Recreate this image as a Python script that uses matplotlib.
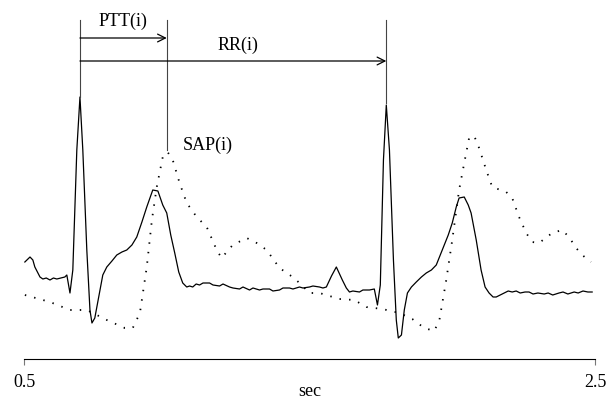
import matplotlib
matplotlib.use("Agg")
import matplotlib.pyplot as plt

plt.rcParams['font.family'] = ['Liberation Serif', 'DejaVu Serif']

# ECG trace (solid), time in sec, amplitude arbitrary units
ecg_t = [0.503, 0.521, 0.531, 0.538, 0.556, 0.566, 0.578, 0.591, 0.603, 0.615, 0.629,
         0.643, 0.650, 0.661, 0.671, 0.685, 0.696, 0.706, 0.720, 0.731, 0.738, 0.748,
         0.766, 0.776, 0.790, 0.808, 0.825, 0.843, 0.860, 0.878, 0.895, 0.913, 0.930,
         0.951, 0.969, 0.986, 1.000, 1.014, 1.028, 1.042, 1.056, 1.070, 1.080, 1.091,
         1.103, 1.115, 1.127, 1.150, 1.162, 1.185, 1.197, 1.220, 1.232, 1.255, 1.267,
         1.290, 1.302, 1.325, 1.337, 1.360, 1.372, 1.395, 1.407, 1.430, 1.442, 1.465,
         1.477, 1.500, 1.512, 1.535, 1.547, 1.559, 1.577, 1.594, 1.615, 1.629, 1.640,
         1.652, 1.675, 1.687, 1.710, 1.727, 1.738, 1.748, 1.759, 1.769, 1.780, 1.794,
         1.804, 1.811, 1.822, 1.832, 1.843, 1.857, 1.874, 1.892, 1.909, 1.927, 1.944,
         1.958, 1.972, 1.986, 2.000, 2.014, 2.024, 2.042, 2.056, 2.066, 2.084, 2.101,
         2.115, 2.129, 2.143, 2.154, 2.168, 2.182, 2.196, 2.210, 2.224, 2.238, 2.255,
         2.269, 2.283, 2.300, 2.322, 2.336, 2.352, 2.374, 2.388, 2.405, 2.427, 2.441,
         2.458, 2.475, 2.490]
ecg_v = [0.96, 1.01, 0.98, 0.91, 0.81, 0.79, 0.80, 0.78, 0.80, 0.79, 0.80,
         0.81, 0.83, 0.65, 0.88, 2.08, 2.61, 2.08, 1.08, 0.48, 0.35, 0.40,
         0.68, 0.83, 0.91, 0.97, 1.03, 1.06, 1.08, 1.13, 1.21, 1.36, 1.51,
         1.68, 1.67, 1.53, 1.45, 1.23, 1.05, 0.86, 0.75, 0.71, 0.72, 0.71,
         0.74, 0.73, 0.75, 0.75, 0.73, 0.72, 0.74, 0.71, 0.70, 0.69, 0.71,
         0.68, 0.70, 0.68, 0.69, 0.69, 0.67, 0.68, 0.70, 0.70, 0.69, 0.71,
         0.70, 0.71, 0.72, 0.71, 0.70, 0.71, 0.82, 0.91, 0.78, 0.70, 0.66,
         0.67, 0.66, 0.68, 0.68, 0.69, 0.53, 0.73, 1.98, 2.53, 2.08, 0.98,
         0.38, 0.20, 0.23, 0.48, 0.65, 0.71, 0.76, 0.81, 0.85, 0.88, 0.93,
         1.03, 1.13, 1.23, 1.35, 1.51, 1.60, 1.61, 1.53, 1.45, 1.18, 0.88,
         0.71, 0.65, 0.61, 0.61, 0.63, 0.65, 0.67, 0.66, 0.67, 0.65, 0.66,
         0.66, 0.64, 0.65, 0.64, 0.65, 0.63, 0.65, 0.66, 0.64, 0.66, 0.65,
         0.67, 0.66, 0.66]

# blood pressure trace (dotted)
bp_t = [0.503, 0.591, 0.661, 0.720, 0.790, 0.853, 0.881, 0.906, 0.930, 0.948,
        0.965, 0.986, 1.003, 1.021, 1.045, 1.070, 1.105, 1.140, 1.175, 1.192,
        1.231, 1.280, 1.315, 1.350, 1.395, 1.441, 1.465, 1.500, 1.535, 1.605,
        1.657, 1.699, 1.755, 1.815, 1.860, 1.902, 1.937, 1.955, 1.979, 2.000,
        2.024, 2.042, 2.059, 2.077, 2.094, 2.119, 2.140, 2.189, 2.210, 2.234,
        2.259, 2.280, 2.304, 2.350, 2.385, 2.409, 2.434, 2.455, 2.486]
bp_v = [0.63, 0.56, 0.48, 0.48, 0.38, 0.30, 0.30, 0.45, 0.91, 1.38,
        1.71, 2.01, 2.06, 1.98, 1.75, 1.55, 1.41, 1.31, 1.08, 1.00,
        1.13, 1.20, 1.15, 1.08, 0.90, 0.81, 0.75, 0.65, 0.65, 0.59,
        0.58, 0.51, 0.49, 0.45, 0.39, 0.30, 0.27, 0.38, 0.78, 1.18,
        1.68, 1.95, 2.20, 2.22, 2.10, 1.88, 1.71, 1.66, 1.60, 1.41,
        1.25, 1.16, 1.15, 1.25, 1.28, 1.21, 1.10, 1.03, 0.96]

# annotation markers
r_peak1 = 0.696
sap_time = 1.000
r_peak2 = 1.769

fig = plt.figure(figsize=(6.14, 4.0), dpi=100)
ax = fig.add_axes([24 / 614, 41 / 400, 571 / 614, 359 / 400])
ax.set_xlim(0.5, 2.5)
ax.set_ylim(-0.01, 3.58)

ax.plot(ecg_t, ecg_v, color='black', lw=0.9)
ax.plot(bp_t, bp_v, color='black', lw=1.3, linestyle=(0, (0.8, 4.5)))

# vertical guide lines
top = 3.38
ax.plot([r_peak1, r_peak1], [2.61, top], color='#444444', lw=0.8)
ax.plot([sap_time, sap_time], [2.08, top], color='#444444', lw=0.8)
ax.plot([r_peak2, r_peak2], [2.55, top], color='#444444', lw=0.8)

# arrows
ax.annotate('', xy=(sap_time, 3.20), xytext=(r_peak1, 3.20),
            arrowprops=dict(arrowstyle='->', lw=0.9, color='black',
                            shrinkA=0, shrinkB=0, mutation_scale=14))
ax.annotate('', xy=(r_peak2, 2.97), xytext=(r_peak1, 2.97),
            arrowprops=dict(arrowstyle='->', lw=0.9, color='black',
                            shrinkA=0, shrinkB=0, mutation_scale=14))

ax.text((r_peak1 + sap_time) / 2, 3.37, 'PTT(i)', ha='center', va='center', fontsize=13)
ax.text(1.25, 3.13, 'RR(i)', ha='center', va='center', fontsize=13)
ax.text(1.057, 2.13, 'SAP(i)', ha='left', va='center', fontsize=13)

for s in ['top', 'right', 'left']:
    ax.spines[s].set_visible(False)
ax.spines['bottom'].set_linewidth(0.8)
ax.set_yticks([])
ax.set_xticks([0.5, 2.5])
ax.set_xticklabels(['0.5', '2.5'], fontsize=13)
ax.tick_params(axis='x', length=4, width=0.8, color='#777777', pad=7)
fig.text(310 / 614, 1 - 392 / 400, 'sec', ha='center', va='center', fontsize=13)

fig.savefig('out.png', dpi=100)
